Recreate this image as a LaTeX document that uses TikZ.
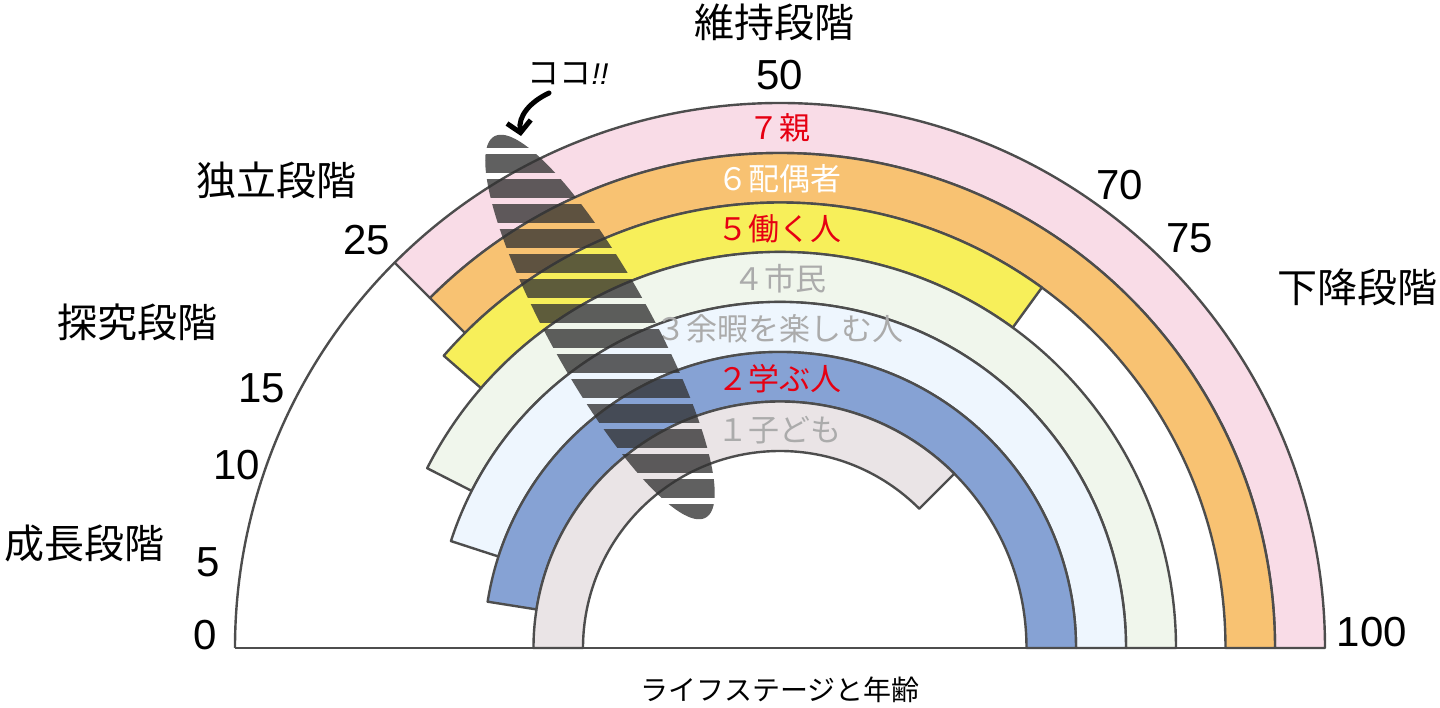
\documentclass[tikz,border=0pt]{standalone}
\usepackage{fontspec}
\setmainfont{Noto Sans CJK JP}
\newfontfamily\numfont{Liberation Sans}
\usetikzlibrary{arrows.meta}
\definecolor{bpink}{HTML}{F9DCE7}
\definecolor{borange}{HTML}{F8C272}
\definecolor{byellow}{HTML}{F7EF5A}
\definecolor{bgreen}{HTML}{F0F6EC}
\definecolor{blblue}{HTML}{EEF6FE}
\definecolor{bblue}{HTML}{86A2D4}
\definecolor{bchild}{HTML}{EAE4E6}
\definecolor{linegray}{HTML}{4D4D4D}
\definecolor{txtred}{HTML}{E60012}
\definecolor{txtgray}{HTML}{ABABAB}
\newcommand\ringband[5]{%
  \draw[bandline, fill=#1] (#4:#2pt) arc[start angle=#4, end angle=#5, radius=#2pt]
    -- (#5:#3pt) arc[start angle=#5, end angle=#4, radius=#3pt] -- cycle;}
\begin{document}
\begin{tikzpicture}[x=1pt,y=1pt,
  bandline/.style={draw=linegray, line width=2.4pt, line join=round},
  stage/.style={font=\fontsize{40}{44}\selectfont, inner sep=0pt},
  age/.style={font=\numfont\fontsize{42}{46}\selectfont, inner sep=0pt},
  role/.style={font=\fontsize{31}{33}\selectfont, inner sep=0pt},
  stripe/.style={fill=black!80, opacity=0.78},
]
\useasboundingbox (-780,-59) rectangle (660,648);
% outer semicircle (white part)
\draw[bandline] (180:545pt) arc[start angle=180, end angle=135, radius=545pt];
% bands: colour, outer r, inner r, start angle, end angle
\ringband{bpink}{545}{495}{135}{0}
\ringband{borange}{495}{445.5}{135}{0}
\ringband{byellow}{445.5}{396}{139}{54}
\ringband{bgreen}{396}{346}{153}{0}
\ringband{blblue}{346}{296}{162}{0}
\ringband{bblue}{296}{246.5}{171}{0}
\ringband{bchild}{246.5}{197}{180}{45}
% base line
\draw[bandline] (-545,0) -- (545,0);
% role labels
\node[role, text=txtred] (r7) at (0,520) {７親};
\node[role, text=white] (r6) at (0,469) {６配偶者};
\node[role, text=txtred] (r5) at (0,419) {５働く人};
\node[role, text=txtgray] (r4) at (0,369) {４市民};
\node[role, text=txtgray] (r3) at (0,319) {３余暇を楽しむ人};
\node[role, text=txtred] (r2) at (0,269) {２学ぶ人};
\node[role, text=txtgray] (r1) at (0,218) {１子ども};
% striped highlight
\begin{scope}
  \clip[rotate around={-61:(-180,321)}] (-180,321) ellipse[x radius=218pt, y radius=51pt];
  \foreach \k in {0,...,15} {
    \fill[stripe] (-320,{500-25*\k}) rectangle (-40,{518.5-25*\k});
  }
\end{scope}
% stage labels
\node[stage] (s1) at (-5,626) {維持段階};
\node[stage] (s2) at (-503,468) {独立段階};
\node[stage] (s3) at (-642,326) {探究段階};
\node[stage] (s4) at (-695,105) {成長段階};
\node[stage] (s5) at (577,361) {下降段階};
% ages
\node[age] (a50) at (0,573) {50};
\node[age] (a25) at (-413,408) {25};
\node[age] (a15) at (-518,260) {15};
\node[age] (a10) at (-543,183) {10};
\node[age] (a5) at (-572,86) {5};
\node[age] (a0) at (-575,13) {0};
\node[age] (a70) at (340,463) {70};
\node[age] (a75) at (410,410) {75};
\node[age] (a100) at (592,16) {100};
% title
\node[font=\fontsize{28}{30}\selectfont, inner sep=0pt] (title) at (0,-42) {ライフステージと年齢};
% koko
\node[font=\fontsize{32}{34}\selectfont, inner sep=0pt] (koko) at (-212,574) {ココ{\numfont\itshape\fontsize{30}{32}\selectfont !!}};
\coordinate (arrtail) at (-231,555);
\coordinate (arrtip) at (-259,512);
\draw[line width=5pt, line cap=round, -{Straight Barb[length=11pt, width=24pt, line width=5pt]}]
  (arrtail) .. controls (-250,546) and (-262,532) .. (arrtip);
\end{tikzpicture}
\end{document}
